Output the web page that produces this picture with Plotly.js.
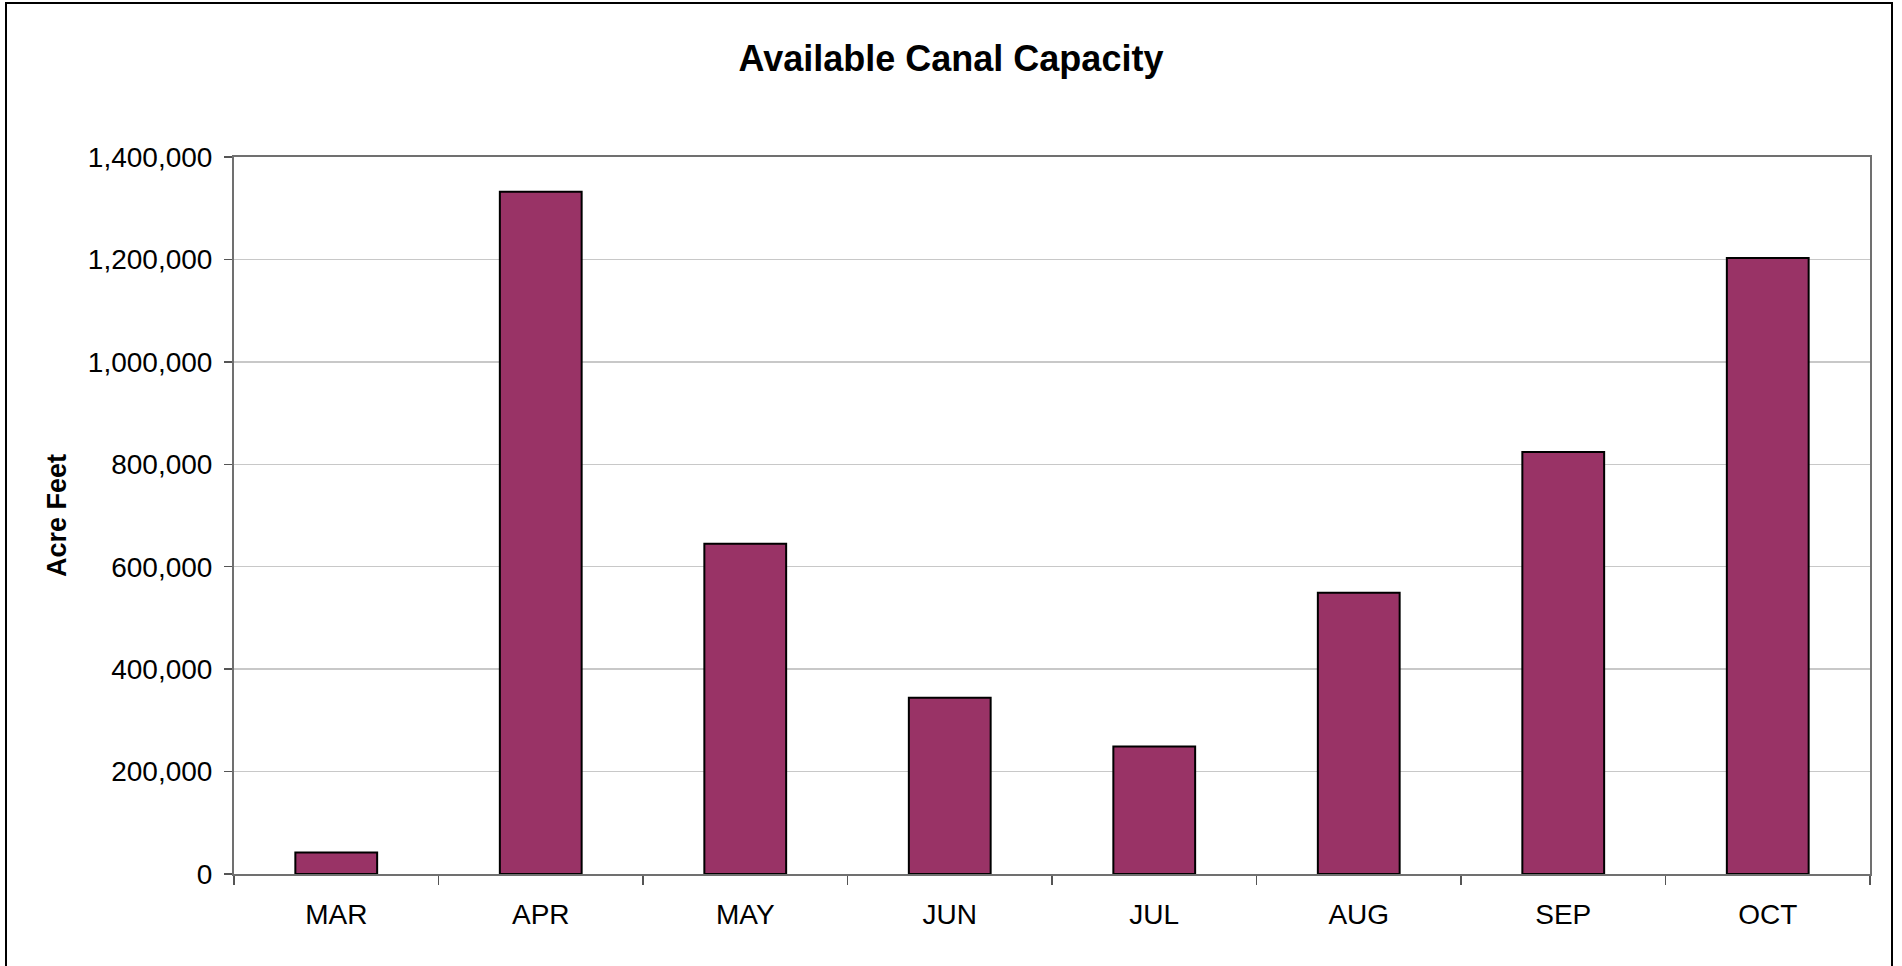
<!DOCTYPE html>
<html>
<head>
<meta charset="utf-8">
<script src="https://cdn.plot.ly/plotly-3.0.1.min.js"></script>
<style>
  html, body { margin: 0; padding: 0; background: #ffffff; overflow: hidden; }
  #chart { position: absolute; left: 0; top: 0; width: 1902px; height: 966px; }
  #frame { position: absolute; left: 5px; top: 2px; width: 1884px; height: 1000px;
           border: 2px solid #000000; pointer-events: none; }
</style>
</head>
<body>
<div id="chart"></div>
<div id="frame"></div>
<script>
// Monthly available canal capacity, acre-feet
const months = ["MAR", "APR", "MAY", "JUN", "JUL", "AUG", "SEP", "OCT"];
const capacity = [42000, 1332000, 645000, 344000, 249000, 549000, 824000, 1203000];
const yTickValues = [0, 200000, 400000, 600000, 800000, 1000000, 1200000, 1400000];

const FONT = "Liberation Sans, Arial, Helvetica, sans-serif";

const trace = {
  type: "bar",
  x: months,
  y: capacity,
  marker: { color: "#993366", line: { color: "#000000", width: 2 } },
  hoverinfo: "x+y"
};

const layout = {
  width: 1902,
  height: 966,
  margin: { l: 234, r: 32, t: 157, b: 92 },
  paper_bgcolor: "#ffffff",
  plot_bgcolor: "#ffffff",
  showlegend: false,
  bargap: 0.6,
  font: { family: FONT, color: "#000000", size: 28 },
  title: {
    text: "<b>Available Canal Capacity</b>",
    font: { family: FONT, size: 36, color: "#000000" },
    x: 0.5, xref: "container", xanchor: "center",
    y: 0.94, yref: "container", yanchor: "middle"
  },
  xaxis: {
    type: "category",
    showline: true, linecolor: "#707070", linewidth: 2, mirror: true,
    ticks: "outside", tickson: "boundaries", ticklen: 9, tickwidth: 1.5, tickcolor: "#555555",
    ticklabelstandoff: 14,
    tickfont: { family: FONT, size: 28, color: "#000000" },
    showgrid: false, zeroline: false, fixedrange: true
  },
  yaxis: {
    title: { text: "<b>Acre Feet</b>", font: { family: FONT, size: 27, color: "#000000" }, standoff: 13 },
    range: [0, 1400000],
    tickvals: yTickValues,
    tickformat: ",d",
    showline: true, linecolor: "#707070", linewidth: 2, mirror: true,
    ticks: "outside", ticklen: 8, tickwidth: 1.5, tickcolor: "#555555",
    ticklabelstandoff: 6,
    tickfont: { family: FONT, size: 28, color: "#000000" },
    showgrid: true, gridcolor: "#c8c8c8", gridwidth: 1.5,
    zeroline: false, fixedrange: true
  }
};

Plotly.newPlot("chart", [trace], layout, { displayModeBar: false, staticPlot: true });
</script>
</body>
</html>
